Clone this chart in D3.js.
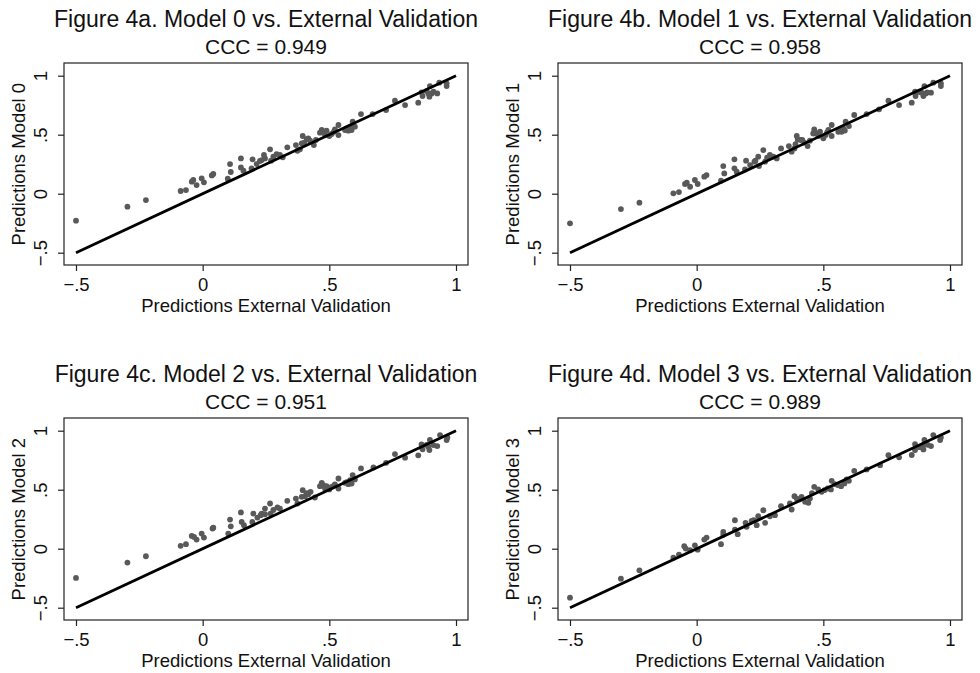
<!DOCTYPE html>
<html><head><meta charset="utf-8">
<script src="https://cdn.jsdelivr.net/npm/d3@7"></script>
<style>body{margin:0;background:#fff}svg{display:block}text{font-family:"Liberation Sans",Arial,Helvetica,sans-serif;fill:#111}</style>
</head><body><svg id="c" width="980" height="673"></svg>
<script>
const panelTitles = ["Figure 4a. Model 0 vs. External Validation","Figure 4b. Model 1 vs. External Validation","Figure 4c. Model 2 vs. External Validation","Figure 4d. Model 3 vs. External Validation"];
const cccValues = ["0.949","0.958","0.951","0.989"];
const yTitles = ["Predictions Model 0","Predictions Model 1","Predictions Model 2","Predictions Model 3"];
const xTitle = "Predictions External Validation";
const tickValues = [-0.5, 0, 0.5, 1];
const tickLabels = ["\u2212.5","0",".5","1"];

const extA = [-0.5,-0.297,-0.224,-0.087,-0.066,-0.043,-0.037,-0.024,-0.004,0.005,0.036,0.042,0.099,0.108,0.111,0.151,0.151,0.161,0.197,0.193,0.213,0.226,0.242,0.246,0.266,0.270,0.292,0.305,0.316,0.334,0.368,0.374,0.384,0.395,0.401,0.417,0.424,0.439,0.447,0.470,0.476,0.489,0.5,0.509,0.522,0.536,0.536,0.562,0.575,0.582,0.592,0.601,0.625,0.671,0.724,0.759,0.799,0.851,0.864,0.868,0.891,0.895,0.897,0.904,0.926,0.934,0.963,0.963,0.391,0.411,0.463,0.483,0.518,0.568,0.588,0.279,0.233,0.884,0.911];
const predA = [-0.229,-0.110,-0.054,0.023,0.031,0.102,0.116,0.073,0.130,0.096,0.155,0.167,0.127,0.251,0.184,0.299,0.223,0.195,0.291,0.215,0.251,0.277,0.328,0.299,0.376,0.280,0.336,0.328,0.308,0.393,0.412,0.364,0.376,0.489,0.432,0.469,0.449,0.412,0.455,0.540,0.525,0.534,0.489,0.506,0.545,0.582,0.497,0.540,0.534,0.568,0.610,0.568,0.675,0.675,0.709,0.788,0.751,0.771,0.859,0.828,0.850,0.822,0.912,0.850,0.850,0.941,0.912,0.935,0.427,0.462,0.517,0.497,0.525,0.554,0.540,0.314,0.285,0.870,0.864];

const extB = [-0.5,-0.299,-0.226,-0.092,-0.070,-0.046,-0.039,-0.026,-0.007,0.004,0.030,0.039,0.096,0.105,0.109,0.149,0.149,0.158,0.195,0.191,0.211,0.228,0.243,0.246,0.263,0.270,0.289,0.303,0.316,0.333,0.364,0.375,0.386,0.395,0.399,0.417,0.425,0.438,0.447,0.464,0.474,0.487,0.5,0.509,0.520,0.533,0.533,0.559,0.572,0.579,0.588,0.601,0.622,0.671,0.720,0.757,0.799,0.849,0.862,0.864,0.888,0.895,0.899,0.904,0.925,0.934,0.964,0.964,0.390,0.410,0.460,0.480,0.515,0.565,0.585,0.278,0.232,0.880,0.910];
const predB = [-0.251,-0.130,-0.076,0.003,0.014,0.082,0.093,0.059,0.116,0.082,0.144,0.158,0.110,0.234,0.172,0.291,0.215,0.186,0.280,0.206,0.243,0.271,0.314,0.234,0.370,0.271,0.328,0.314,0.299,0.384,0.404,0.356,0.384,0.489,0.460,0.455,0.432,0.404,0.449,0.545,0.511,0.525,0.469,0.497,0.540,0.582,0.489,0.525,0.525,0.554,0.610,0.573,0.667,0.675,0.715,0.788,0.751,0.771,0.864,0.828,0.856,0.828,0.912,0.850,0.856,0.941,0.912,0.935,0.420,0.455,0.510,0.490,0.520,0.548,0.535,0.305,0.280,0.862,0.858];

const extC = [-0.5,-0.297,-0.224,-0.087,-0.066,-0.043,-0.034,-0.024,-0.004,0.005,0.039,0.101,0.108,0.111,0.151,0.154,0.163,0.200,0.196,0.216,0.229,0.246,0.246,0.266,0.268,0.295,0.305,0.334,0.368,0.374,0.395,0.404,0.417,0.426,0.443,0.470,0.476,0.489,0.5,0.509,0.522,0.536,0.536,0.562,0.575,0.582,0.592,0.601,0.625,0.674,0.724,0.759,0.799,0.851,0.864,0.868,0.891,0.895,0.897,0.926,0.937,0.963,0.966,0.391,0.411,0.463,0.483,0.518,0.568,0.588,0.279,0.233,0.884,0.911,0.042];
const predC = [-0.248,-0.118,-0.064,0.024,0.038,0.108,0.100,0.077,0.128,0.094,0.171,0.128,0.247,0.190,0.307,0.227,0.199,0.298,0.227,0.264,0.284,0.340,0.292,0.383,0.298,0.349,0.340,0.406,0.425,0.383,0.496,0.445,0.462,0.482,0.434,0.558,0.539,0.530,0.502,0.524,0.544,0.595,0.510,0.558,0.547,0.581,0.624,0.587,0.680,0.689,0.728,0.802,0.771,0.791,0.884,0.842,0.864,0.836,0.921,0.870,0.963,0.921,0.943,0.440,0.470,0.530,0.510,0.535,0.565,0.552,0.328,0.298,0.880,0.878,0.178];

const extD = [-0.5,-0.299,-0.226,-0.092,-0.070,-0.049,-0.043,-0.026,-0.007,0.004,0.030,0.039,0.096,0.105,0.151,0.151,0.162,0.193,0.197,0.217,0.237,0.243,0.263,0.270,0.289,0.309,0.333,0.368,0.375,0.386,0.395,0.414,0.428,0.441,0.447,0.464,0.480,0.493,0.504,0.517,0.530,0.533,0.557,0.570,0.583,0.592,0.601,0.622,0.671,0.724,0.757,0.799,0.849,0.862,0.862,0.895,0.895,0.899,0.925,0.934,0.961,0.964,0.405,0.455,0.545,0.225,0.105,0.880,0.912];
const predD = [-0.415,-0.254,-0.183,-0.076,-0.050,0.021,0.001,-0.013,0.029,-0.008,0.077,0.094,0.038,0.142,0.241,0.162,0.123,0.219,0.185,0.236,0.199,0.275,0.326,0.219,0.275,0.284,0.360,0.383,0.332,0.445,0.425,0.439,0.397,0.389,0.425,0.524,0.502,0.482,0.496,0.510,0.502,0.575,0.539,0.530,0.553,0.587,0.575,0.660,0.672,0.708,0.793,0.774,0.794,0.887,0.836,0.878,0.841,0.921,0.870,0.963,0.921,0.943,0.418,0.470,0.548,0.242,0.118,0.860,0.880];

const panels = [
  {ox:76, oy:75.7, ext:extA, pred:predA},
  {ox:570, oy:75.7, ext:extB, pred:predB},
  {ox:76, oy:430.7, ext:extC, pred:predC},
  {ox:570, oy:430.7, ext:extD, pred:predD}
];

const svg = d3.select("#c");
const W = 380, H = 177;
const x = d3.scaleLinear().domain([-0.5,1]).range([0,W]);
const y = d3.scaleLinear().domain([-0.5,1]).range([H,0]);
const fx0 = -12, fy0 = -12.7, fx1 = W+12, fy1 = H+12.3;

panels.forEach((p,i) => {
  const g = svg.append("g").attr("transform",`translate(${p.ox},${p.oy})`);
  const cx = (fx0+fx1)/2;
  g.append("text").attr("x",cx).attr("y",-48.7).attr("text-anchor","middle").style("font-size","23px").text(panelTitles[i]);
  g.append("text").attr("x",cx).attr("y",-21.5).attr("text-anchor","middle").style("font-size","21px").text("CCC = " + cccValues[i]);

  g.append("rect").attr("x",fx0).attr("y",fy0).attr("width",fx1-fx0).attr("height",fy1-fy0)
    .attr("fill","none").attr("stroke","#222").attr("stroke-width",1.2);

  const xa = g.append("g").attr("transform",`translate(0,${fy1})`)
    .call(d3.axisBottom(x).tickValues(tickValues).tickFormat((d,j)=>tickLabels[j]).tickSize(6).tickSizeOuter(0));
  xa.select(".domain").remove();
  xa.selectAll("line").attr("stroke","#222").attr("stroke-width",1.2);
  xa.selectAll("text").attr("y",26).attr("dy",0).attr("fill","#111")
    .style("font-size","18.5px").style("font-family",'"Liberation Sans",Arial,sans-serif');

  const ya = g.append("g").attr("transform",`translate(${fx0},0)`)
    .call(d3.axisLeft(y).tickValues(tickValues).tickFormat((d,j)=>tickLabels[j]).tickSize(6).tickSizeOuter(0));
  ya.select(".domain").remove();
  ya.selectAll("line").attr("stroke","#222").attr("stroke-width",1.2);
  ya.selectAll("text").attr("x",0).attr("y",0).attr("dy",0).attr("text-anchor","middle")
    .attr("transform","translate(-17,0) rotate(-90)").attr("fill","#111")
    .style("font-size","18.5px").style("font-family",'"Liberation Sans",Arial,sans-serif');

  g.append("text").attr("x",(x(-0.5)+x(1))/2).attr("y",236).attr("text-anchor","middle").style("font-size","18.5px").text(xTitle);
  g.append("text").attr("transform",`translate(-51,${(y(-0.5)+y(1))/2}) rotate(-90)`).attr("text-anchor","middle").style("font-size","18.5px").text(yTitles[i]);

  g.selectAll("circle").data(p.ext.map((e,k)=>[e,p.pred[k]])).join("circle")
    .attr("cx",d=>x(d[0])).attr("cy",d=>y(d[1])).attr("r",2.9).attr("fill","#595959");

  g.append("line").attr("x1",x(-0.5)).attr("y1",y(-0.5)).attr("x2",x(1)).attr("y2",y(1))
    .attr("stroke","#000").attr("stroke-width",2.8);
});
</script></body></html>
